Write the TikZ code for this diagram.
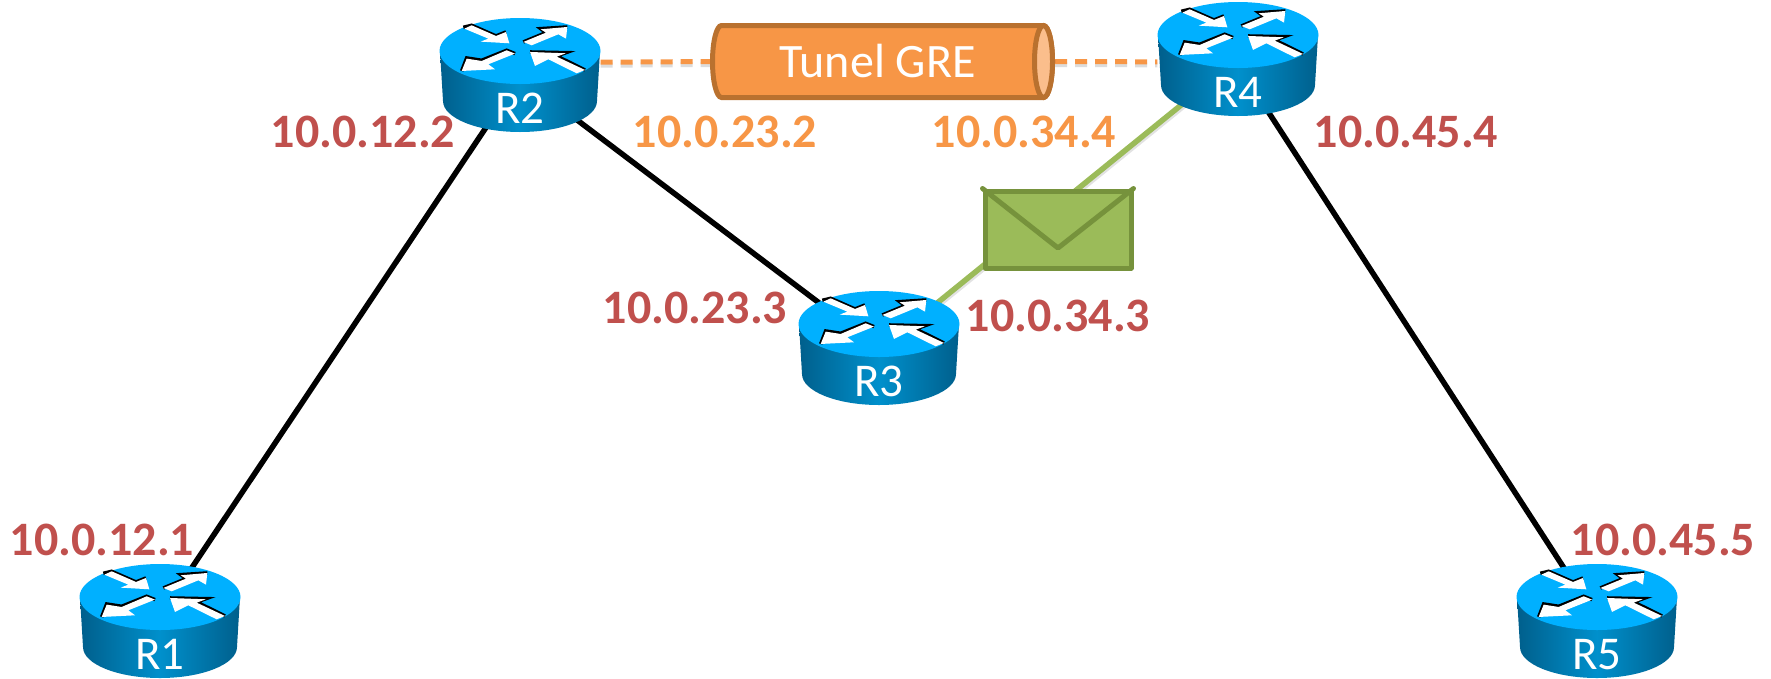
\documentclass[tikz,border=0pt]{standalone}
\usepackage{fontspec}
\setmainfont{Carlito}
\usetikzlibrary{
	backgrounds
}

\definecolor{routertop}{HTML}{00B0FF}
\definecolor{routerdark}{HTML}{005F8C}
\definecolor{routermid}{HTML}{0090CC}
\definecolor{ipred}{HTML}{C0504D}
\definecolor{iporange}{HTML}{F79646}
\definecolor{tubeline}{HTML}{B9712F}
\definecolor{tubeend}{HTML}{FBBE8C}
\definecolor{mailfill}{HTML}{9BBB59}
\definecolor{mailline}{HTML}{76923C}

\tikzset{
	routerbox/.style={
		rectangle,inner sep=0pt,minimum width=161pt,
		text height=104pt,text depth=8pt,text=white,
		font=\fontsize{47}{47}\selectfont
	},
	router/.pic={
		\shade[left color=routerdark,right color=routerdark,middle color=routermid]
			(-80,0) -- (-77,50) arc[start angle=180,end angle=0,x radius=77,y radius=31]
			-- (80,0) -- cycle;
		\fill[routertop] (0,0) ellipse[x radius=80.5,y radius=33];
		\begin{scope}[shift={(-100,-51.7)},scale=1/3,line width=3.5pt]
			\draw (130,84) -- (155,78) -- (228,110) -- (258,98);
			\fill[white] (155,78) -- (228,110) -- (258,98) -- (268,132) -- (182,127) -- (205,118) -- (133,88) -- cycle;
			\draw (310,128) -- (378,100) -- (362,88) -- (442,83);
			\fill[white] (310,128) -- (378,100) -- (362,90) -- (442,83) -- (438,118) -- (415,105) -- (335,138) -- cycle;
			\draw (285,163) -- (260,153) -- (185,183) -- (140,176) -- (125,215);
			\fill[white] (260,153) -- (185,185) -- (140,178) -- (125,215) -- (225,210) -- (205,195) -- (285,163) -- cycle;
			\draw (495,212) -- (410,170) -- (438,160) -- (330,158);
			\fill[white] (495,212) -- (410,172) -- (438,162) -- (330,158) -- (345,200) -- (385,180) -- (470,222) -- cycle;
		\end{scope}
		\node[routerbox] (#1) at (0,24) {#1};
	},
	ipred/.style={text=ipred,font=\fontsize{48}{48}\selectfont\bfseries,inner sep=0pt},
	iporange/.style={text=iporange,font=\fontsize{48}{48}\selectfont\bfseries,inner sep=0pt},
	blackline/.style={draw=black,line width=5.5pt,shorten >=-25pt,shorten <=-25pt},
	greenline/.style={
		draw=mailfill,line width=5.5pt,shorten >=-25pt,shorten <=-25pt,
		preaction={draw=black!45,opacity=.25,line width=5.5pt,transform canvas={yshift=-3pt}}
	},
	tunnelline/.style={
		draw=iporange,line width=5pt,dash pattern=on 12pt off 8pt,
		preaction={draw=black!45,opacity=.3,line width=5pt,dash pattern=on 12pt off 8pt,transform canvas={yshift=-3pt}}
	},
	tube/.style={draw=tubeline,line width=5pt}
}

\begin{document}
\begin{tikzpicture}[x=1pt,y=-1pt]
	\useasboundingbox (0,0) rectangle (1771,678);

	\pic at (160,597)  {router=R1};
	\pic at (520,51)   {router=R2};
	\pic at (879,324)  {router=R3};
	\pic at (1238,35)  {router=R4};
	\pic at (1597,597) {router=R5};

	% the tunnel is drawn by hand, its node only holds the text
	\filldraw[tube,fill=iporange]
		(721.5,25.5) -- (1043.5,25.5)
		arc[start angle=-90,end angle=90,x radius=9,y radius=36]
		-- (721.5,97.5)
		arc[start angle=90,end angle=270,x radius=9,y radius=36] -- cycle;
	\filldraw[tube,fill=tubeend] (1043.5,61.5) ellipse[x radius=9,y radius=36];
	\node[
		rectangle,inner sep=0pt,minimum width=345pt,minimum height=77pt,
		text=white,font=\fontsize{48}{48}\selectfont
	] (gre) at (882.5,61.5) {Tunel GRE\hspace*{10pt}};

	\node[
		rectangle,minimum width=146pt,minimum height=77pt,
		fill=mailfill,draw=mailline,line width=5pt,line join=round
	] (mail) at (1058,229.5) {};
	\coordinate (flap) at (1058,248);
	\draw[mailline,line width=5pt,line join=round,line cap=round] (mail.north west) -- (flap) -- (mail.north east);

	\node[ipred]    (ip12a) at (363,132)  {10.0.12.2};
	\node[iporange] (ip23a) at (725,132)  {10.0.23.2};
	\node[iporange] (ip34a) at (1024,132) {10.0.34.4};
	\node[ipred]    (ip45a) at (1406,132) {10.0.45.4};
	\node[ipred]    (ip23b) at (695,308)  {10.0.23.3};
	\node[ipred]    (ip34b) at (1058,316) {10.0.34.3};
	\node[ipred]    (ip12b) at (102,540)  {10.0.12.1};
	\node[ipred]    (ip45b) at (1663,540) {10.0.45.5};

	\begin{scope}[on background layer]
		\draw[blackline] (R1.59)  -- (R2.237);
		\draw[blackline] (R2.322) -- (R3.143);
		\draw[blackline] (R4.300) -- (R5.122);
		\draw[greenline] (R3.38)  -- (R4.219);
		\draw[tunnelline] (R2.9)  -- (gre.west);
		\draw[tunnelline] (gre.east) -- (R4.182);
	\end{scope}
\end{tikzpicture}
\end{document}
